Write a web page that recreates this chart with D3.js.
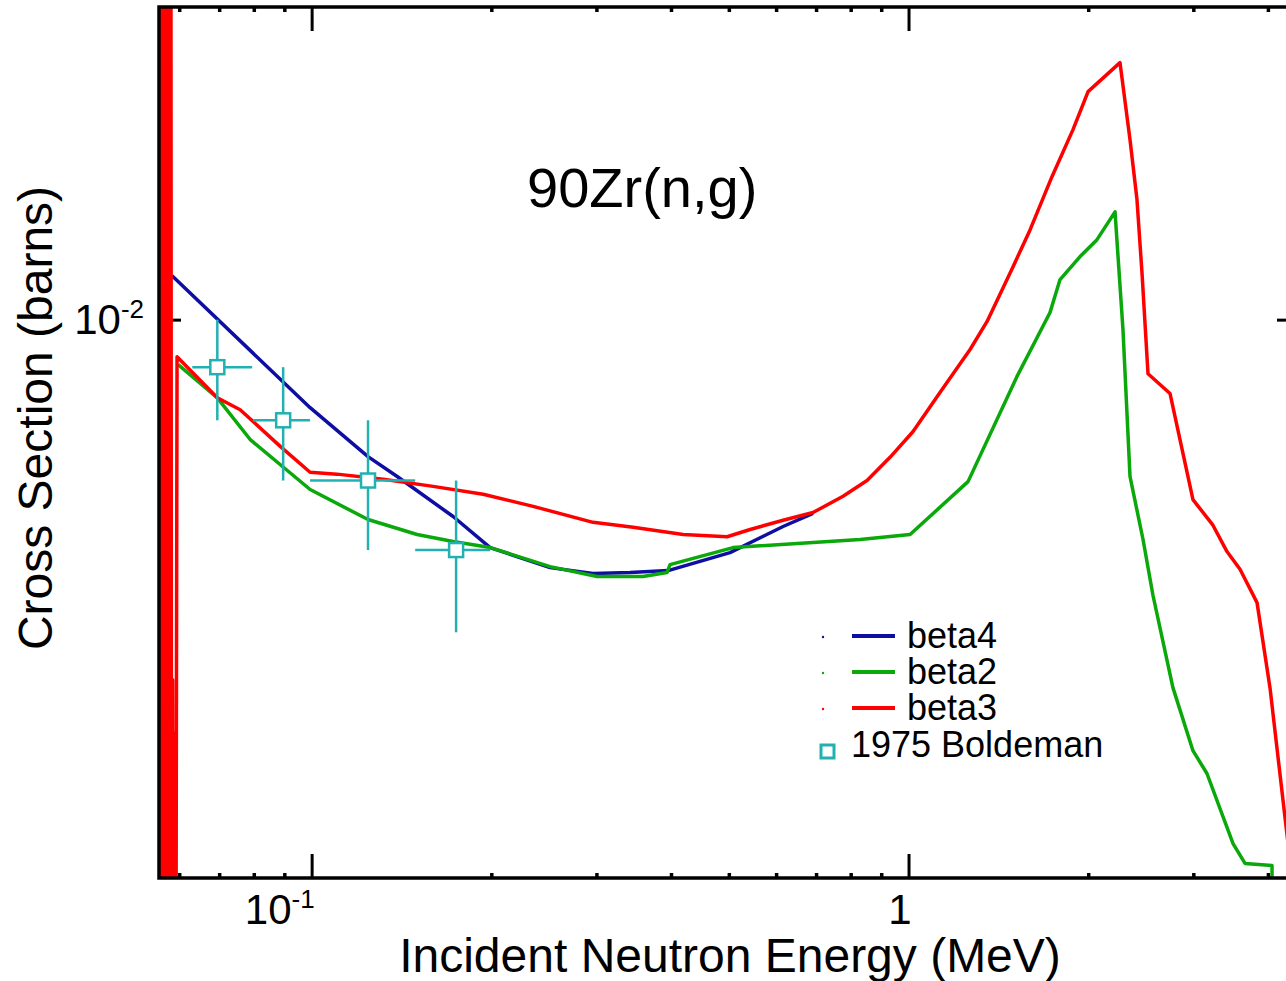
<!DOCTYPE html>
<html>
<head>
<meta charset="utf-8">
<script src="https://cdn.jsdelivr.net/npm/d3@7"></script>
<style>
    html, body { margin: 0; padding: 0; background: #fff; }
    svg { display: block; font-family: "Liberation Sans", Arial, Helvetica, sans-serif; }
</style>
</head>
<body>
<svg id="chart" width="1286" height="981"></svg>
<script>
"use strict";

// ---- data (energies in MeV, cross sections in barns) ----

var beta4Energy = [0.05837, 0.09942, 0.1243, 0.1391, 0.1726, 0.1991, 0.2509, 0.2961, 0.3416, 0.3956, 0.5023, 0.6164, 0.6918];
var beta4Xs     = [0.01102, 0.008227, 0.007381, 0.007063, 0.006463, 0.006033, 0.005771, 0.005695, 0.005708, 0.005733, 0.005966, 0.006322, 0.006508];

var beta2Energy = [0.05977, 0.06945, 0.07889, 0.09942, 0.1243, 0.1502, 0.1726, 0.1991, 0.2509, 0.3007,
                   0.3591, 0.3939, 0.3985, 0.5082, 0.8295, 1.006, 1.258, 1.519, 1.726, 1.794,
                   1.938, 2.069, 2.218, 2.287, 2.350, 2.471, 2.568, 2.773, 2.996, 3.162,
                   3.497, 3.662, 4.064, 4.07];
var beta2Xs     = [0.009051, 0.008413, 0.007666, 0.006862, 0.006420, 0.006210, 0.006114, 0.006033, 0.005784, 0.005658,
                   0.005658, 0.005708, 0.005809, 0.006033, 0.006142, 0.006210, 0.006983, 0.008813, 0.01016, 0.01093,
                   0.0115, 0.01194, 0.0127, 0.00978, 0.007063, 0.006142, 0.005425, 0.004423, 0.003846, 0.003656,
                   0.003130, 0.002995, 0.002981, 0.0025];

// beta3 starts with the resolved resonances (spikes) below 60 keV
var beta3Energy = [0.0557, 0.0559, 0.0561, 0.0563, 0.0565, 0.0567, 0.0569, 0.0571, 0.0573, 0.0575,
                   0.0577, 0.0579, 0.0581, 0.0583, 0.0585, 0.0587, 0.0589, 0.0591, 0.0595,
                   0.0695, 0.0759, 0.0886, 0.0994, 0.1103, 0.1318, 0.1598, 0.1938, 0.2350, 0.2961,
                   0.3456, 0.4192, 0.4966, 0.5428, 0.6164, 0.6918, 0.7768, 0.8521, 0.9311, 1.017,
                   1.129, 1.268, 1.354, 1.496, 1.598, 1.739, 1.886, 1.999, 2.261, 2.350,
                   2.414, 2.461, 2.519, 2.742, 2.996, 3.236, 3.416, 3.592, 3.836, 4.033,
                   4.272, 4.355];
var beta3Xs     = [0.05, 0.001, 0.05, 0.001, 0.04, 0.001, 0.05, 0.001, 0.03, 0.001,
                   0.05, 0.001, 0.03, 0.001, 0.0045, 0.001, 0.004, 0.001, 0.00921,
                   0.00841, 0.00819, 0.00755, 0.00713, 0.00710, 0.00702, 0.00691, 0.00679, 0.00661, 0.00638,
                   0.00631, 0.00621, 0.00618, 0.00628, 0.00641, 0.00652, 0.00676, 0.00700, 0.00737, 0.00780,
                   0.00851, 0.00936, 0.00996, 0.01124, 0.0122, 0.01373, 0.01524, 0.01658, 0.01768, 0.01490,
                   0.01305, 0.01110, 0.00887, 0.00849, 0.00671, 0.00634, 0.00598, 0.00575, 0.00534, 0.00442,
                   0.00332, 0.00302];

// 1975 Boldeman measurement
var boldemanEnergy   = [0.0695, 0.0896, 0.1243, 0.1746];
var boldemanEnergyLo = [0.0631, 0.0798, 0.0994, 0.1491];
var boldemanEnergyHi = [0.0795, 0.0994, 0.1491, 0.1991];
var boldemanXs       = [0.0090, 0.0080, 0.0070, 0.0060];
var boldemanXsErr    = [0.0010, 0.0010, 0.0010, 0.0010];

var xMajorTicks = [0.1, 1];
var xMajorBase  = ['10', '1'];
var xMajorExp   = ['-1', ''];
var xMinorTicks = [0.06, 0.07, 0.08, 0.09, 0.2, 0.3, 0.4, 0.5, 0.6, 0.7, 0.8, 0.9, 2, 3, 4];

var yMajorTicks = [0.01];
var yMajorBase  = ['10'];
var yMajorExp   = ['-2'];
var yMinorTicks = [0.003, 0.004, 0.005, 0.006, 0.007, 0.008, 0.009];

var seriesNames  = ['beta4', 'beta2', 'beta3'];
var seriesColors = ['#0e0ea2', '#0aa80a', '#ff0000'];

// ---- layout ----

var plot = { left: 159, top: 7, right: 1299, bottom: 878 };
var dataColor = '#22b0b0';

var svg = d3.select('#chart');

var x = d3.scaleLog().domain([0.0555, 4.51]).range([plot.left, plot.right]);
var y = d3.scaleLog().domain([0.0029, 0.02]).range([plot.bottom, plot.top]);

svg.append('defs')
    .append('clipPath')
    .attr('id', 'plotClip')
    .append('rect')
    .attr('x', plot.left)
    .attr('y', plot.top)
    .attr('width', plot.right - plot.left)
    .attr('height', plot.bottom - plot.top);

/**
 * Draw a set of inward ticks with a d3 axis
 */
function drawTicks(axisFn, scale, values, size, transform) {
    var g = svg.append('g')
        .attr('transform', transform)
        .call(axisFn(scale).tickValues(values).tickSize(-size).tickSizeOuter(0).tickFormat(''));
    g.select('.domain').remove();
    g.selectAll('.tick line')
        .attr('stroke', '#000')
        .attr('stroke-width', size > 10 ? 3 : 3.5);
    return g;
}

// minor ticks
drawTicks(d3.axisBottom, x, xMinorTicks, 5, 'translate(0,' + plot.bottom + ')');
drawTicks(d3.axisTop, x, xMinorTicks, 5, 'translate(0,' + plot.top + ')');
drawTicks(d3.axisLeft, y, yMinorTicks, 5, 'translate(' + plot.left + ',0)');
drawTicks(d3.axisRight, y, yMinorTicks, 5, 'translate(' + plot.right + ',0)');

// major ticks
drawTicks(d3.axisBottom, x, xMajorTicks, 24, 'translate(0,' + plot.bottom + ')');
drawTicks(d3.axisTop, x, xMajorTicks, 24, 'translate(0,' + plot.top + ')');
drawTicks(d3.axisLeft, y, yMajorTicks, 22, 'translate(' + plot.left + ',0)');
drawTicks(d3.axisRight, y, yMajorTicks, 22, 'translate(' + plot.right + ',0)');

// ---- curves ----

var line = d3.line()
    .x(function(d) { return x(d[0]); })
    .y(function(d) { return y(d[1]); });

var curves = svg.append('g').attr('clip-path', 'url(#plotClip)');

var seriesData = [
    d3.zip(beta4Energy, beta4Xs),
    d3.zip(beta2Energy, beta2Xs),
    d3.zip(beta3Energy, beta3Xs)
];

seriesData.forEach(function(points, i) {
    curves.append('path')
        .datum(points)
        .attr('d', line)
        .attr('fill', 'none')
        .attr('stroke', seriesColors[i])
        .attr('stroke-width', 3.5)
        .attr('stroke-linejoin', 'round');
});

// ---- measurement with error bars ----

var measured = curves.append('g');

boldemanEnergy.forEach(function(e, i) {
    var cx = x(e), cy = y(boldemanXs[i]);
    measured.append('line')
        .attr('x1', x(boldemanEnergyLo[i])).attr('x2', x(boldemanEnergyHi[i]))
        .attr('y1', cy).attr('y2', cy);
    measured.append('line')
        .attr('x1', cx).attr('x2', cx)
        .attr('y1', y(boldemanXs[i] - boldemanXsErr[i]))
        .attr('y2', y(boldemanXs[i] + boldemanXsErr[i]));
    measured.append('rect')
        .attr('x', cx - 7).attr('y', cy - 7)
        .attr('width', 14).attr('height', 14)
        .attr('fill', '#fff');
});

measured.selectAll('line')
    .attr('stroke', dataColor)
    .attr('stroke-width', 2.5);
measured.selectAll('rect')
    .attr('stroke', dataColor)
    .attr('stroke-width', 2.5);

// ---- frame ----

svg.append('rect')
    .attr('x', plot.left)
    .attr('y', plot.top)
    .attr('width', plot.right - plot.left)
    .attr('height', plot.bottom - plot.top)
    .attr('fill', 'none')
    .attr('stroke', '#000')
    .attr('stroke-width', 3.5);

// ---- tick labels ----

xMajorTicks.forEach(function(v, i) {
    var t = svg.append('text')
        .attr('x', x(v) + 3)
        .attr('y', 924)
        .attr('text-anchor', 'end')
        .attr('font-size', 42);
    t.append('tspan').text(xMajorBase[i]);
    if (xMajorExp[i]) {
        t.append('tspan').attr('font-size', 26).attr('dy', -16).text(xMajorExp[i]);
    }
});

yMajorTicks.forEach(function(v, i) {
    var t = svg.append('text')
        .attr('x', plot.left - 15)
        .attr('y', y(v) + 14)
        .attr('text-anchor', 'end')
        .attr('font-size', 42);
    t.append('tspan').text(yMajorBase[i]);
    t.append('tspan').attr('font-size', 26).attr('dy', -16).text(yMajorExp[i]);
});

// ---- titles ----

svg.append('text')
    .attr('x', 527)
    .attr('y', 207)
    .attr('font-size', 56)
    .text('90Zr(n,g)');

svg.append('text')
    .attr('x', 730)
    .attr('y', 972)
    .attr('text-anchor', 'middle')
    .attr('font-size', 48)
    .text('Incident Neutron Energy (MeV)');

svg.append('text')
    .attr('transform', 'translate(52,418) rotate(-90)')
    .attr('text-anchor', 'middle')
    .attr('font-size', 48)
    .text('Cross Section (barns)');

// ---- legend ----

var legend = svg.append('g').attr('transform', 'translate(0,636)');

seriesNames.forEach(function(name, i) {
    var row = legend.append('g').attr('transform', 'translate(0,' + (i * 36) + ')');
    row.append('circle')
        .attr('cx', 823).attr('cy', 1).attr('r', 1.2)
        .attr('fill', seriesColors[i]);
    row.append('line')
        .attr('x1', 852).attr('x2', 895)
        .attr('y1', 0).attr('y2', 0)
        .attr('stroke', seriesColors[i])
        .attr('stroke-width', 4);
    row.append('text')
        .attr('x', 907).attr('y', 12)
        .attr('font-size', 36)
        .text(name);
});

var dataRow = legend.append('g').attr('transform', 'translate(0,' + (3 * 36) + ')');
dataRow.append('rect')
    .attr('x', 821).attr('y', 1)
    .attr('width', 13).attr('height', 13)
    .attr('fill', '#fff')
    .attr('stroke', dataColor)
    .attr('stroke-width', 3);
dataRow.append('text')
    .attr('x', 851).attr('y', 13)
    .attr('font-size', 36)
    .text('1975 Boldeman');
</script>
</body>
</html>
